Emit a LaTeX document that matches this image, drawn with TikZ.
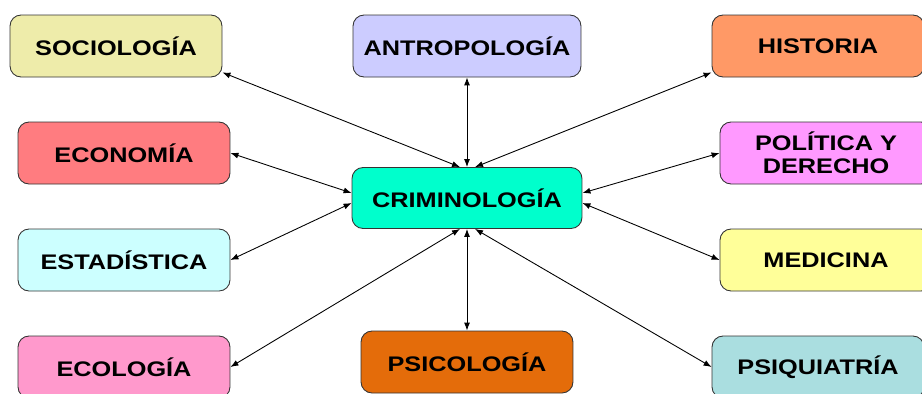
\documentclass[tikz,border=0pt]{standalone}
\usepackage{fontspec}
\usepackage{tikz}
\usetikzlibrary{arrows.meta}
\newfontfamily\boxfont{Liberation Sans}[FakeStretch=1.2]

\tikzset{
	box/.style={draw=black!80, rounded corners=0.22cm, line width=0.5pt, minimum width=4.24cm, minimum height=1.24cm, inner sep=0pt, align=center, font=\boxfont\bfseries\fontsize{12pt}{13pt}\selectfont},
	link/.style={{Latex[length=1.6mm,width=1.2mm]}-{Latex[length=1.6mm,width=1.2mm]}, line width=0.5pt}
}

\begin{document}
\begin{tikzpicture}[x=0.02cm, y=-0.02cm]
	\useasboundingbox (0,0) rectangle (922,393);
	\clip (0,0) rectangle (922,393);

	\node(crim) [box, fill={rgb,255:red,0;green,255;blue,204}, minimum width=4.6cm, minimum height=1.22cm] at (467,198) {CRIMINOLOGÍA};
	\node(soc) [box, fill={rgb,255:red,238;green,236;blue,170}] at (116,46) {SOCIOLOGÍA};
	\node(antro) [box, fill={rgb,255:red,204;green,204;blue,255}, minimum width=4.56cm] at (467,46) {ANTROPOLOGÍA};
	\node(hist) [box, fill={rgb,255:red,255;green,153;blue,102}] at (818,46) {HISTORIA};
	\node(econ) [box, fill={rgb,255:red,255;green,124;blue,128}] at (124,153) {ECONOMÍA};
	\node(pol) [box, fill={rgb,255:red,255;green,153;blue,255}] at (826,153) {POLÍTICA Y\\DERECHO};
	\node(est) [box, fill={rgb,255:red,204;green,255;blue,255}] at (124,260) {ESTADÍSTICA};
	\node(med) [box, fill={rgb,255:red,255;green,255;blue,153}] at (826,260) {MEDICINA};
	\node(ecol) [box, fill={rgb,255:red,255;green,153;blue,204}] at (124,367) {ECOLOGÍA};
	\node(psico) [box, fill={rgb,255:red,228;green,108;blue,10}] at (467,362) {PSICOLOGÍA};
	\node(psiq) [box, fill={rgb,255:red,170;green,222;blue,224}] at (818,367) {PSIQUIATRÍA};

	\draw[link] ([yshift=0.1cm]soc.south east) -- ([xshift=-0.14cm]crim.north);
	\draw[link] (antro.south) -- (crim.north);
	\draw[link] ([yshift=0.1cm]hist.south west) -- ([xshift=0.16cm]crim.north);
	\draw[link] (econ.east) -- ([yshift=0.1cm]crim.west);
	\draw[link] (pol.west) -- ([yshift=0.1cm]crim.east);
	\draw[link] (est.east) -- ([yshift=-0.1cm]crim.west);
	\draw[link] (med.west) -- ([yshift=-0.1cm]crim.east);
	\draw[link] (ecol.east) -- ([xshift=-0.14cm]crim.south);
	\draw[link] (psico.north) -- (crim.south);
	\draw[link] (psiq.west) -- ([xshift=0.16cm]crim.south);

\end{tikzpicture}
\end{document}
